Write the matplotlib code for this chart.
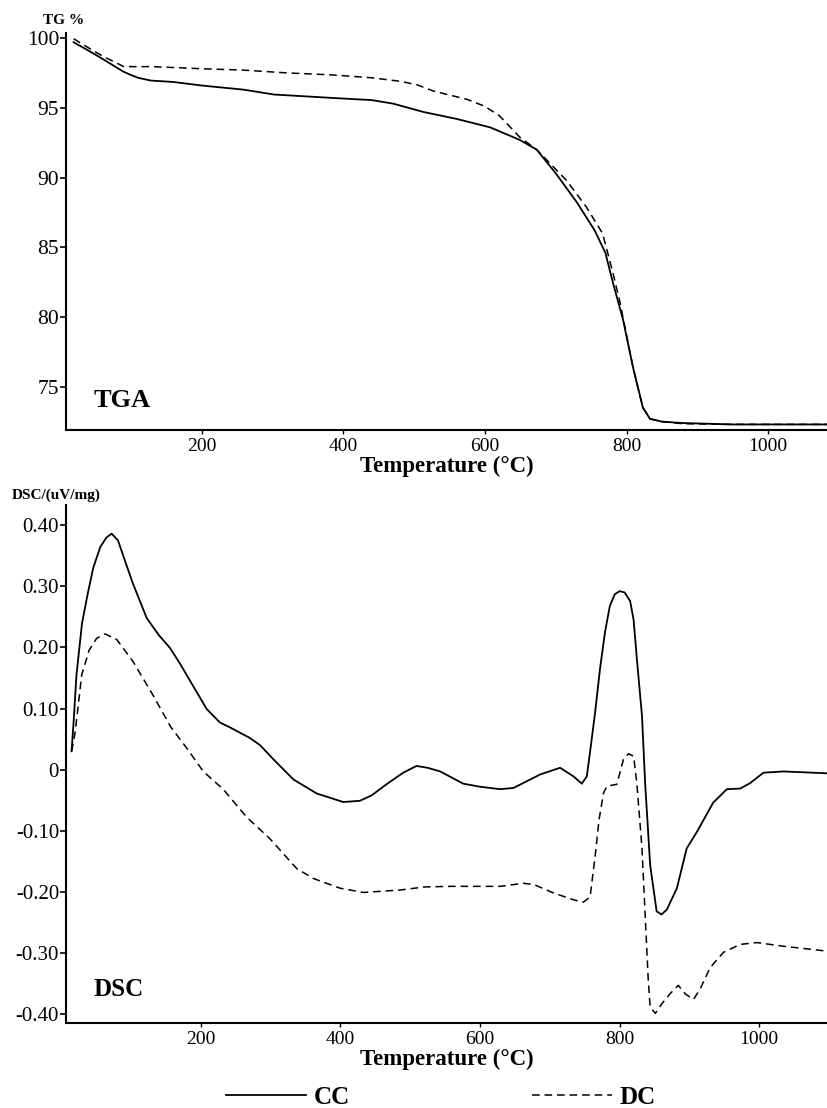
import matplotlib
import matplotlib.pyplot as plt
from matplotlib.lines import Line2D

matplotlib.use('Agg')
plt.rcParams['font.family'] = ['Liberation Serif', 'DejaVu Serif']

# TGA curves (temperature in degC, mass in %)
tga_cc_t = [19, 40, 60, 89, 100, 110, 128, 160, 199, 259, 302, 386, 440, 470, 513, 560, 607,
            649, 673, 700, 730, 755, 770, 781, 795, 809, 823, 833, 850, 879, 949, 1083]
tga_cc_w = [99.7, 99.1, 98.5, 97.6, 97.35, 97.15, 96.95, 96.85, 96.6, 96.3, 95.95, 95.7, 95.55,
            95.3, 94.7, 94.2, 93.6, 92.7, 92.0, 90.3, 88.2, 86.2, 84.6, 82.4, 79.8, 76.4, 73.5,
            72.7, 72.5, 72.4, 72.3, 72.3]
tga_dc_t = [19, 40, 60, 90, 130, 199, 259, 320, 386, 440, 480, 504, 527, 575, 600, 621, 649,
            673, 715, 743, 766, 781, 790, 800, 809, 823, 833, 850, 879, 949, 1083]
tga_dc_w = [99.95, 99.3, 98.7, 97.95, 97.95, 97.8, 97.7, 97.5, 97.35, 97.15, 96.9, 96.65, 96.2,
            95.6, 95.1, 94.4, 92.9, 92.0, 89.8, 87.9, 86.0, 83.1, 81.2, 78.7, 76.4, 73.5, 72.7,
            72.5, 72.35, 72.3, 72.3]

# DSC curves (temperature in degC, uV/mg)
dsc_cc_t = [15, 18, 22, 30, 38.5, 46, 56, 65, 72.5, 81.5, 92, 103, 122.6, 140, 156, 170, 190,
            208.6, 227.6, 242, 270, 285, 304, 332.6, 366, 404, 428, 445, 466, 490, 509, 525,
            543, 576, 600, 629, 648, 686, 714.7, 733.8, 745.8, 753, 760, 765, 772, 779, 786,
            793, 800, 807, 815, 820, 824.6, 832, 836.5, 843.7, 853, 860, 867.6, 882, 896, 910.6,
            934, 953.6, 972.6, 987, 1006, 1034.7, 1097]
dsc_cc_v = [0.03, 0.08, 0.155, 0.24, 0.29, 0.33, 0.364, 0.38, 0.386, 0.375, 0.34, 0.304, 0.248,
            0.22, 0.199, 0.174, 0.135, 0.099, 0.077, 0.069, 0.052, 0.04, 0.017, -0.016, -0.039,
            -0.053, -0.051, -0.042, -0.024, -0.005, 0.006, 0.003, -0.003, -0.023, -0.028,
            -0.032, -0.030, -0.008, 0.003, -0.011, -0.023, -0.011, 0.05, 0.095, 0.166, 0.225,
            0.268, 0.287, 0.292, 0.29, 0.276, 0.245, 0.182, 0.088, -0.022, -0.156, -0.232,
            -0.237, -0.229, -0.194, -0.129, -0.102, -0.054, -0.032, -0.031, -0.022, -0.005,
            -0.003, -0.006]
dsc_dc_t = [15, 20, 25, 29.5, 40, 51, 63, 79.6, 103, 132, 157, 180, 203.7, 232, 266, 299,
            337.5, 361, 399.5, 433, 485.5, 521, 557, 629, 662, 677, 705.7, 734, 748, 757.7,
            765, 770.6, 777, 782, 796, 805.5, 812.6, 820, 824.6, 832, 836.5, 841, 843.7, 851,
            860.5, 872, 884, 894, 905.7, 915.3, 929.6, 948.7, 972.6, 996.5, 1034.7, 1097]
dsc_dc_v = [0.03, 0.06, 0.11, 0.155, 0.195, 0.215, 0.222, 0.213, 0.177, 0.121, 0.07, 0.035,
            -0.003, -0.032, -0.078, -0.113, -0.162, -0.178, -0.194, -0.201, -0.197, -0.192,
            -0.191, -0.191, -0.186, -0.188, -0.202, -0.213, -0.217, -0.208, -0.140, -0.081,
            -0.038, -0.027, -0.024, 0.017, 0.026, 0.022, -0.022, -0.129, -0.237, -0.345,
            -0.388, -0.399, -0.383, -0.367, -0.353, -0.367, -0.376, -0.359, -0.324, -0.299,
            -0.286, -0.283, -0.289, -0.297]

x_ticks = [200, 400, 600, 800, 1000]
tga_ticks = [75, 80, 85, 90, 95, 100]
dsc_ticks = [0.40, 0.30, 0.20, 0.10, 0, -0.10, -0.20, -0.30, -0.40]
dsc_tick_labels = ['0.40', '0.30', '0.20', '0.10', '0', '-0.10', '-0.20', '-0.30', '-0.40']
series_names = ['CC', 'DC']

W, H = 827, 1108
fig = plt.figure(figsize=(W / 100, H / 100), dpi=100)
ax1 = fig.add_axes([66 / W, 1 - 430 / H, 1 - 66 / W, 397 / H])
ax2 = fig.add_axes([66 / W, 1 - 1023 / H, 1 - 66 / W, 518 / H])

solid_kw = dict(color='black', lw=1.3, linestyle='-')
dash_kw = dict(color='black', lw=1.1, linestyle=(0, (5, 3.2)))

ax1.plot(tga_cc_t, tga_cc_w, **solid_kw)
ax1.plot(tga_dc_t, tga_dc_w, **dash_kw)
ax2.plot(dsc_cc_t, dsc_cc_v, **solid_kw)
ax2.plot(dsc_dc_t, dsc_dc_v, **dash_kw)

ax1.set_xlim(8.3, 1083)
ax1.set_ylim(71.9, 100.36)
ax2.set_xlim(7, 1097)
ax2.set_ylim(-0.4146, 0.433)

ax1.set_yticks(tga_ticks)
ax2.set_yticks(dsc_ticks, dsc_tick_labels)

for ax in (ax1, ax2):
    ax.set_xticks(x_ticks)
    for side in ('top', 'right'):
        ax.spines[side].set_visible(False)
    for side in ('left', 'bottom'):
        ax.spines[side].set_linewidth(1.5)
    ax.tick_params(axis='y', direction='out', length=4, width=1.2, pad=1, labelsize=15.5)
    ax.tick_params(axis='x', direction='out', length=3, width=1.0, pad=3, labelsize=14)
    ax.set_xlabel('Temperature (°C)', fontsize=16.5, fontweight='bold', labelpad=0)

ax2.tick_params(axis='y', labelsize=15)

ax1.text(0.036, 0.075, 'TGA', transform=ax1.transAxes, fontsize=19, fontweight='bold',
         va='center', ha='left')
ax2.text(0.036, 0.064, 'DSC', transform=ax2.transAxes, fontsize=18, fontweight='bold',
         va='center', ha='left')

fig.text(43 / W, 1 - 20 / H, 'TG %', fontsize=11, fontweight='bold', va='center', ha='left')
fig.text(12 / W, 1 - 495 / H, 'DSC/(uV/mg)', fontsize=11, fontweight='bold',
         va='center', ha='left')

handles = [Line2D([], [], **solid_kw), Line2D([], [], **dash_kw)]
fig.legend(handles, series_names, loc='center', bbox_to_anchor=(0.533, 1 - 1097 / H),
           ncol=2, frameon=False, handlelength=3.2, handletextpad=0.3, columnspacing=7.3,
           prop=dict(size=18, weight='bold'))

fig.savefig('out.png', dpi=100)
